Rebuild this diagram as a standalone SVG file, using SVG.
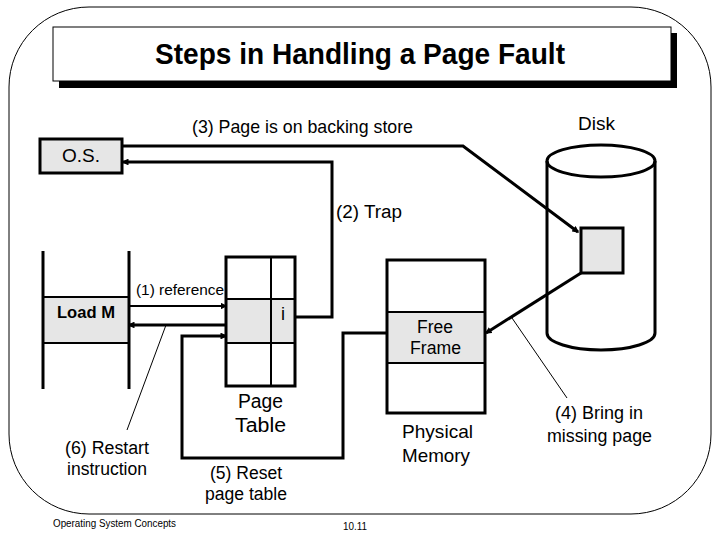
<svg xmlns="http://www.w3.org/2000/svg" width="720" height="540" viewBox="0 0 720 540">
<defs>
<style>
text{font-family:"Liberation Sans",Arial,sans-serif;fill:#000}
.t19{font-size:19px}
.t18{font-size:18px}
.thick{fill:none;stroke:#000;stroke-width:3}
.med{fill:none;stroke:#000;stroke-width:2}
.thin{fill:none;stroke:#000;stroke-width:1}
.gray{fill:#e6e6e6}
</style>
<marker id="ah" viewBox="0 0 10 10" refX="8" refY="5" markerWidth="2.3" markerHeight="2.3" markerUnits="strokeWidth" orient="auto">
<path d="M0,0 L10,5 L0,10 z" fill="#000"/>
</marker>
<marker id="ah2" viewBox="0 0 10 10" refX="8" refY="5" markerWidth="3.3" markerHeight="3.3" markerUnits="strokeWidth" orient="auto">
<path d="M0,0 L10,5 L0,10 z" fill="#000"/>
</marker>
</defs>
<rect width="720" height="540" fill="#fff"/>
<rect x="9" y="7" width="702" height="507" rx="80" ry="80" class="thin"/>

<g id="title">
<rect x="59" y="33" width="618" height="55" fill="#000"/>
<rect x="53" y="27" width="618" height="54" fill="#fff" stroke="#000" stroke-width="1"/>
<text x="155" y="64" font-size="29" font-weight="bold" textLength="410" lengthAdjust="spacingAndGlyphs">Steps in Handling a Page Fault</text>
</g>

<g id="connectors">
<polyline points="123,146 463,146 578,232" class="thick" marker-end="url(#ah)"/>
<polyline points="295,317 332,317 332,162 123,162" class="thick" marker-end="url(#ah)"/>
<line x1="129" y1="306" x2="226" y2="306" class="med" marker-end="url(#ah2)"/>
<line x1="226" y1="325" x2="129" y2="325" class="thick" marker-end="url(#ah)"/>
<polyline points="387,333 343,333 343,458 182,458 182,336 226,336" class="thick" marker-end="url(#ah)"/>
<line x1="581" y1="273" x2="486" y2="333" class="thick" marker-end="url(#ah)"/>
<line x1="166" y1="325" x2="127" y2="430" class="thin"/>
<line x1="512" y1="318" x2="567" y2="398" class="thin"/>
</g>

<g id="os">
<rect x="40" y="139" width="82" height="34" class="gray" stroke="#000" stroke-width="3"/>
<text class="t19" x="62" y="162" textLength="38" lengthAdjust="spacingAndGlyphs">O.S.</text>
</g>

<g id="program">
<rect x="43" y="297" width="86" height="46" class="gray"/>
<line x1="43" y1="297" x2="129" y2="297" class="med"/>
<line x1="43" y1="343" x2="129" y2="343" class="med"/>
<line x1="43" y1="251" x2="43" y2="389" class="thick"/>
<line x1="129" y1="251" x2="129" y2="389" class="thick"/>
<text x="57" y="318" font-size="17" font-weight="bold" textLength="58" lengthAdjust="spacingAndGlyphs">Load M</text>
</g>

<g id="page-table">
<rect x="226" y="299" width="69" height="44" class="gray"/>
<line x1="271" y1="257" x2="271" y2="386" class="med"/>
<line x1="226" y1="299" x2="295" y2="299" class="med"/>
<line x1="226" y1="343" x2="295" y2="343" class="med"/>
<rect x="226" y="257" width="69" height="129" class="thick"/>
<text class="t18" x="281" y="320">i</text>
<text x="238" y="408" font-size="19.5" textLength="45" lengthAdjust="spacingAndGlyphs">Page</text>
<text x="235" y="432" font-size="19.5" textLength="51" lengthAdjust="spacingAndGlyphs">Table</text>
</g>

<g id="physical-memory">
<rect x="387" y="312" width="98" height="51" class="gray"/>
<line x1="387" y1="312" x2="485" y2="312" class="med"/>
<line x1="387" y1="363" x2="485" y2="363" class="med"/>
<rect x="387" y="260" width="98" height="153" class="thick"/>
<text x="417" y="333" font-size="17.5" textLength="36" lengthAdjust="spacingAndGlyphs">Free</text>
<text x="410" y="354" font-size="17.5" textLength="51" lengthAdjust="spacingAndGlyphs">Frame</text>
<text class="t19" x="402" y="438" textLength="71" lengthAdjust="spacingAndGlyphs">Physical</text>
<text class="t19" x="402" y="462" textLength="68" lengthAdjust="spacingAndGlyphs">Memory</text>
</g>

<g id="disk">
<path d="M547,161 L547,333 A54,17 0 0 0 655,333 L655,161" class="thick"/>
<ellipse cx="601" cy="161" rx="54" ry="16" class="thick"/>
<rect x="581" y="228" width="42" height="45" class="gray" stroke="#000" stroke-width="3"/>
<text class="t19" x="578" y="130" textLength="37" lengthAdjust="spacingAndGlyphs">Disk</text>
</g>

<g id="labels">
<text class="t19" x="192" y="133" textLength="221" lengthAdjust="spacingAndGlyphs">(3) Page is on backing store</text>
<text class="t18" x="336" y="218" textLength="66" lengthAdjust="spacingAndGlyphs">(2) Trap</text>
<text x="136" y="295" font-size="15.5" textLength="88" lengthAdjust="spacingAndGlyphs">(1) reference</text>
<text class="t18" x="555" y="419" textLength="88" lengthAdjust="spacingAndGlyphs">(4) Bring in</text>
<text class="t18" x="547" y="442" textLength="105" lengthAdjust="spacingAndGlyphs">missing page</text>
<text class="t18" x="65" y="454" textLength="84" lengthAdjust="spacingAndGlyphs">(6) Restart</text>
<text class="t18" x="67" y="475" textLength="80" lengthAdjust="spacingAndGlyphs">instruction</text>
<text class="t18" x="210" y="479" textLength="72" lengthAdjust="spacingAndGlyphs">(5) Reset</text>
<text class="t18" x="205" y="500" textLength="82" lengthAdjust="spacingAndGlyphs">page table</text>
</g>

<g id="footer">
<text x="53" y="527" font-size="10" textLength="123" lengthAdjust="spacingAndGlyphs">Operating System Concepts</text>
<text x="343" y="530" font-size="10" textLength="24" lengthAdjust="spacingAndGlyphs">10.11</text>
</g>
</svg>
